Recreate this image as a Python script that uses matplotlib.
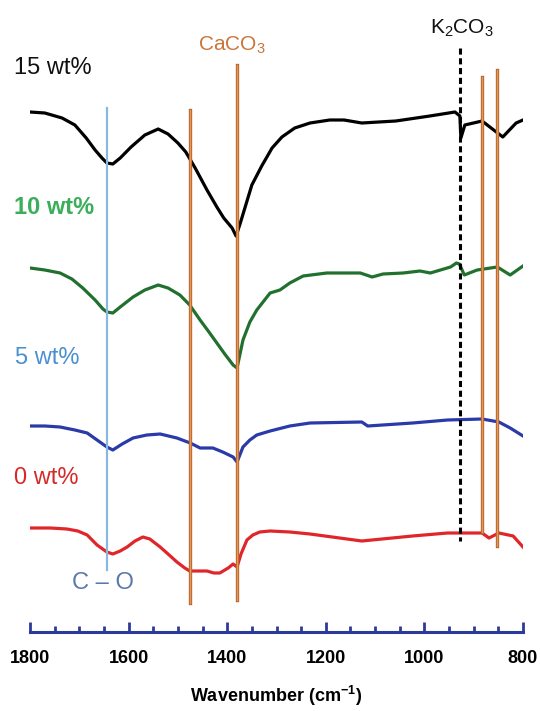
import matplotlib
import numpy as np

matplotlib.use('Agg')
import matplotlib.pyplot as plt

plt.rcParams['font.family'] = ['Liberation Sans', 'DejaVu Sans']
plt.rcParams['mathtext.fontset'] = 'custom'
plt.rcParams['mathtext.rm'] = 'Liberation Sans'
plt.rcParams['mathtext.it'] = 'Liberation Sans:italic'
plt.rcParams['mathtext.bf'] = 'Liberation Sans:bold'

# FTIR spectra, offset transmittance (a.u., drawn downward = absorption)
wn_15 = [1800, 1770, 1735, 1709, 1686, 1668, 1654, 1644, 1632, 1617, 1595, 1567,
         1540, 1520, 1500, 1484, 1465, 1441, 1421, 1407, 1390, 1382, 1374, 1366,
         1350, 1330, 1309, 1289, 1263, 1232, 1192, 1163, 1127, 1058, 989, 938,
         928, 926, 918, 883, 841, 814, 800]
t_15 = [112, 113, 118, 125, 138, 150, 158, 163, 164, 158, 147, 135,
        129, 134, 143, 152, 168, 190, 207, 218, 228, 236, 224, 211,
        185, 166, 148, 137, 128, 123, 120, 120, 123, 121, 116, 112,
        116, 138, 125, 121, 137, 123, 120]

wn_10 = [1800, 1770, 1739, 1715, 1693, 1668, 1652, 1644, 1632, 1617, 1591, 1567,
         1540, 1520, 1496, 1476, 1455, 1437, 1421, 1405, 1388, 1380,
         1368, 1354, 1340, 1313, 1293, 1273, 1246, 1198, 1177, 1130, 1106, 1084,
         1043, 1009, 988, 947, 935, 929, 919, 893, 852, 826, 800]
t_10 = [268, 270, 273, 279, 288, 300, 309, 312, 313, 307, 297, 290,
        285, 288, 295, 305, 320, 332, 343, 354, 365, 368,
        340, 322, 310, 293, 290, 283, 276, 273, 273, 273, 277, 274,
        273, 271, 273, 267, 263, 264, 275, 270, 267, 275, 266]

wn_5 = [1800, 1770, 1739, 1709, 1684, 1664, 1644, 1632, 1613, 1591, 1563, 1536,
        1502, 1475, 1455, 1429, 1409, 1388, 1380, 1368, 1354, 1340, 1313, 1273,
        1232, 1127, 1115, 1024, 953, 883, 849, 826, 800]
t_5 = [426, 426, 427, 430, 433, 440, 447, 450, 444, 438, 435, 434,
       438, 443, 448, 448, 452, 457, 462, 447, 440, 435, 431, 426,
       423, 422, 426, 423, 420, 419, 422, 428, 436]

wn_0 = [1800, 1759, 1725, 1703, 1684, 1664, 1644, 1632, 1617, 1603, 1587, 1571,
        1557, 1536, 1520, 1502, 1486, 1476, 1455, 1441, 1427, 1415, 1398, 1388,
        1380, 1372, 1360, 1348, 1334, 1313, 1273, 1232, 1127, 1024, 953, 883,
        869, 849, 820, 800]
t_0 = [528, 528, 529, 531, 535, 545, 552, 554, 551, 547, 541, 537,
       539, 547, 554, 562, 568, 571, 571, 571, 573, 573, 568, 564,
       567, 554, 540, 535, 532, 531, 532, 534, 541, 536, 533, 533,
       538, 533, 536, 547]

# marker lines: position, top, bottom
co_line = (1644, 108, 570)
caco3_lines = [(1475, 110, 603), (1380, 65, 600), (884, 77, 532), (852, 70, 546)]
k2co3_line = (928, 48, 541)

fig = plt.figure(figsize=(5.4, 7.11), dpi=100)
ax = fig.add_axes([30 / 540, 79 / 711, 493 / 540, 632 / 711])

ax.plot(wn_15, t_15, color='#000000', lw=2.3)
ax.plot(wn_10, t_10, color='#22702e', lw=2.3)
ax.plot(wn_5, t_5, color='#2a3aa8', lw=2.3)
ax.plot(wn_0, t_0, color='#e0262a', lw=2.3)

ax.plot([co_line[0]] * 2, co_line[1:], color='#8bb8e2', lw=1.6)
for pos, top, bot in caco3_lines:
    ax.plot([pos, pos], [top, bot], color='#b5642a', lw=2.4)
    ax.plot([pos, pos], [top, bot], color='#e6975a', lw=1.0)
ax.plot([k2co3_line[0]] * 2, k2co3_line[1:], color='#000000', lw=2.2,
        linestyle=(0, (2, 1.2)))

ax.text(1832, 68, '15 wt%', color='#111111', fontsize=17, va='center', ha='left')
ax.text(1832, 207, '10 wt%', color='#3aae5a', fontsize=17, fontweight='bold',
        va='center', ha='left')
ax.text(1830, 358, '5 wt%', color='#4a90d0', fontsize=17, va='center', ha='left')
ax.text(1832, 478, '0 wt%', color='#d42a2a', fontsize=17, va='center', ha='left')
ax.text(1652, 583, 'C – O', color='#5b78a8', fontsize=17, va='center', ha='center')
ax.text(1390, 45, r'CaCO$_3$', color='#c8763a', fontsize=15, va='center', ha='center')
ax.text(924, 28, r'K$_2$CO$_3$', color='#111111', fontsize=15, va='center', ha='center')

ax.set_xlim(1800, 800)
ax.set_ylim(632, 0)
ax.set_xticks([1800, 1600, 1400, 1200, 1000, 800])
ax.set_xticks(np.arange(800, 1801, 50), minor=True)
ax.set_yticks([])
for s in ['top', 'left', 'right']:
    ax.spines[s].set_visible(False)
ax.spines['bottom'].set_color('#2b3a9b')
ax.spines['bottom'].set_linewidth(2.2)
ax.tick_params(axis='x', which='major', direction='in', length=7, width=2,
               color='#2b3a9b', pad=13, labelsize=13)
ax.tick_params(axis='x', which='minor', direction='in', length=4, width=2,
               color='#2b3a9b')
for lbl in ax.get_xticklabels():
    lbl.set_fontweight('bold')
ax.set_xlabel(r'Wavenumber (cm$^{\mathbf{-1}}$)', fontsize=13, fontweight='bold',
              labelpad=12)

plt.savefig('out.png', dpi=100)
